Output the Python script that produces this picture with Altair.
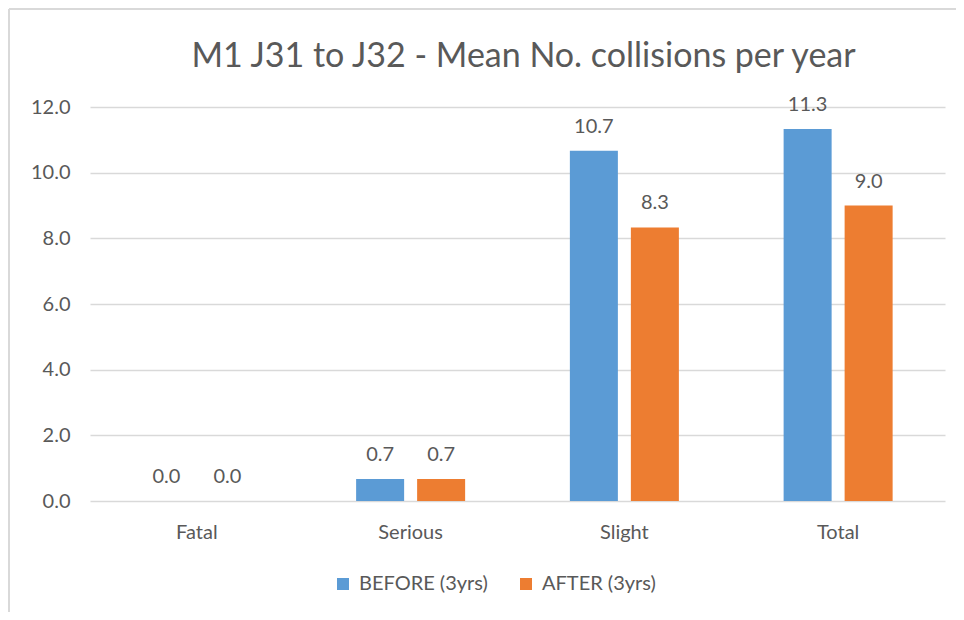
import altair as alt
import pandas as pd

categories = ["Fatal", "Serious", "Slight", "Total"]
series = ["BEFORE (3yrs)", "AFTER (3yrs)"]
before = [0.0, 0.67, 10.67, 11.33]
after = [0.0, 0.67, 8.33, 9.0]
colors = ["#5B9BD5", "#ED7D31"]
y_ticks = [0, 2, 4, 6, 8, 10, 12]

rows = []
for c, b, a in zip(categories, before, after):
    rows.append({"Category": c, "Series": series[0], "Value": b})
    rows.append({"Category": c, "Series": series[1], "Value": a})
df = pd.DataFrame(rows)

FONT = "Lato"
GREY = "#595959"
FS = 20

x_enc = alt.X("Category:N", sort=categories,
              scale=alt.Scale(paddingInner=0.49, paddingOuter=0.245),
              axis=alt.Axis(title=None, labelAngle=0, domain=False, ticks=False,
                            labelPadding=21, labelFontSize=FS, labelColor=GREY,
                            labelFont=FONT))
y_enc = alt.Y("Value:Q", scale=alt.Scale(domain=[0, 12], nice=False),
              axis=alt.Axis(title=None, values=y_ticks, format=".1f", domain=False,
                            ticks=False, labelPadding=20, labelFontSize=FS,
                            labelColor=GREY, labelFont=FONT, gridColor="#D9D9D9",
                            gridWidth=1.5))
xo = alt.XOffset("Series:N", sort=series, scale=alt.Scale(paddingInner=0.213))

bars = alt.Chart(df).mark_bar().encode(
    x=x_enc, y=y_enc, xOffset=xo,
    color=alt.Color("Series:N", sort=series,
                    scale=alt.Scale(domain=series, range=colors),
                    legend=alt.Legend(title=None, orient="none", direction="horizontal",
                                      legendX=243, legendY=467, symbolType="square",
                                      symbolSize=144, symbolStrokeWidth=0,
                                      labelFontSize=FS, labelColor=GREY, labelFont=FONT,
                                      columnPadding=28, labelOffset=6)),
)

labels = alt.Chart(df).mark_text(baseline="alphabetic", dy=-18, fontSize=FS,
                                 color=GREY, font=FONT).encode(
    x=alt.X("Category:N", sort=categories), y="Value:Q",
    xOffset=alt.XOffset("Series:N", sort=series),
    text=alt.Text("Value:Q", format=".1f"),
)

frame_top = alt.Chart(df).mark_rule(color="#D9D9D9", strokeWidth=2).encode(
    x=alt.value(-81), x2=alt.value(960), y=alt.value(-98))
frame_left = alt.Chart(df).mark_rule(color="#D9D9D9", strokeWidth=2).encode(
    x=alt.value(-81), y=alt.value(-98), y2=alt.value(510))

chart = alt.layer(bars, labels, frame_top, frame_left).properties(
    width=855, height=394,
    title=alt.TitleParams("M1 J31 to J32 - Mean No. collisions per year",
                          fontSize=34, font=FONT, fontWeight="normal", color=GREY,
                          anchor="middle", offset=-66, dx=6),
    padding={"left": 82, "top": 99, "right": 11, "bottom": 111},
    autosize=alt.AutoSizeParams(type="none"),
).configure_view(stroke=None)

chart.save("out.html", embed_options={"renderer": "svg", "actions": False})
